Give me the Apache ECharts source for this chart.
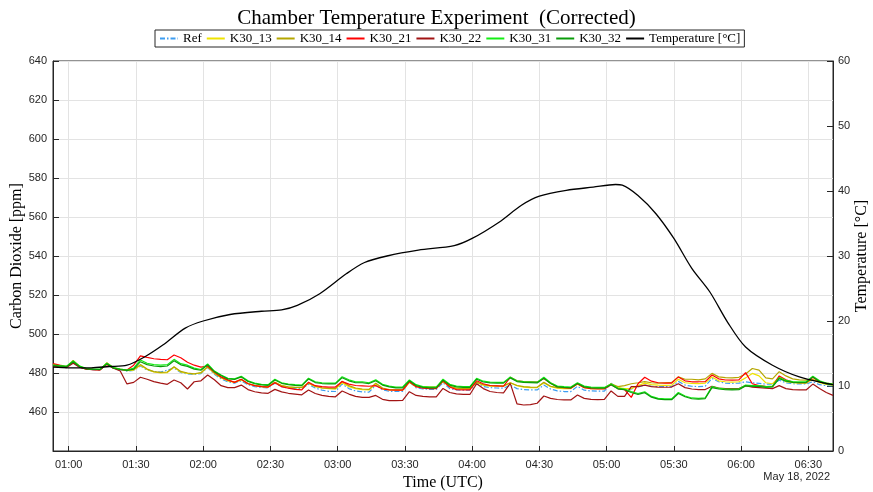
<!DOCTYPE html>
<html><head><meta charset="utf-8">
<script src="https://cdn.jsdelivr.net/npm/echarts@6/dist/echarts.min.js"></script>
<style>html,body{margin:0;padding:0;background:#fff}#c{width:873px;height:492px}</style>
</head><body><div id="c"></div>
<script>
// Sampling of the CO2 series: every 3 minutes from 00:53 UTC, 18 May 2022
const START_TIME = '00:53';
const STEP_MIN = 3;
const X_MIN = '00:53';
const X_MAX = '06:41';
const xTickLabels = ['01:00','01:30','02:00','02:30','03:00','03:30','04:00','04:30','05:00','05:30','06:00','06:30'];

const seriesNames = ['Ref','K30_13','K30_14','K30_21','K30_22','K30_31','K30_32'];

const ref = [484,483.4,482.8,485.5,483,482,481.7,481.6,484.6,482.5,481.6,481,481.3,483.6,481.5,480.8,480.5,481.5,482.5,480.3,479.5,479.2,479.7,482.8,479.3,477,475.5,474.8,476,474,473,472.6,472.4,474.8,473,472.3,472,472,474.2,472.3,471.2,470.6,470.5,474.4,472,470.8,470.3,470.2,473.8,471.4,470.6,470.5,470.6,475.5,472.4,471.8,471.6,471.6,475,472,471.3,471.2,471.2,474.5,473,472.5,472.3,472.2,473.8,472,471.5,471.3,471.3,473.8,471.8,470.8,470.5,470.5,473.2,471.2,470.8,470.7,470.7,474.7,472,471.3,471.8,472.8,473.8,473.2,473,473,473,475.7,473.8,473.2,473,473.2,477.2,475.5,474.8,474.7,474.8,475.5,475,474.7,474.3,474.3,476.3,475,474.5,474.4,474.4,475.5,474,473.5,473.3];
const k30_13 = [484.2,483.5,483,486,483.2,482,481.8,481.7,485,482.6,481.8,481.2,481.5,484,481.8,480.5,480,480.2,483,480.5,479.8,479.5,480,483,479.8,477.5,476,475.2,476.5,474.5,473.5,473,472.8,475.2,473.5,472.8,472.5,472.5,474.7,473,472.3,472,471.8,475,473,472,471.5,471.3,474.5,472,471.3,471.2,471.2,475.2,473,472.8,472.6,472.6,475.6,473,472,471.8,471.8,475.2,473.8,473.3,473.2,473.2,475,473.5,472.8,472.5,472.5,475,473,472.2,472,472,474.3,472.5,472,472,472,474.3,472.5,472,472,473.5,474.8,474,473.8,473.7,473.8,476.8,475,474.7,474.6,474.8,478,476,475.5,475.3,475.5,477.5,479.8,478.5,475,474.5,477.8,475.5,475,474.8,474.8,476.8,475,474.2,473.8];
const k30_14 = [484.5,483.6,483,486.5,483.3,482.2,481.9,481.8,485.2,482.7,482,481.4,481.8,484.3,482,480.7,480.3,480.5,483.2,480.8,480,479.6,480.2,483.2,480,477.7,476.2,475.4,476.7,474.6,473.6,473.1,472.9,475.3,473.6,472.9,472.6,472.6,474.9,473.2,472.4,472.1,472,475.8,473.5,472.3,471.8,471.6,474.8,472.3,471.5,471.4,471.4,475.3,473.2,473,472.8,472.8,475.6,473.2,472.2,472,472,475.3,474,473.5,473.4,473.4,475,473.6,473,472.8,472.7,475.2,473.2,472.5,472.3,472.3,474.5,472.8,472.4,472.3,472.3,474.5,473,473.5,474.5,475,475.6,475,474.8,475,475.2,478,476.8,476.8,476.5,477,479.8,478,477.6,477.5,477.8,479.5,482.3,481.5,477.5,477,480.7,478.5,477,476.5,476.3,476.5,475.5,474.8,474.3];
const k30_21 = [484.8,484,483.3,485.5,483,482,481.7,481.6,484.5,482.5,481.8,481.5,484,488.8,488,487.3,487,486.8,489.2,487.8,485.5,484,483,483.6,480.5,478,476.5,475.2,476.8,474.5,473.5,473,472.8,475,473,472.2,471.6,471.3,475.3,473.5,473,472.8,472.8,475.6,474.3,473.6,473.4,473.2,473.5,471.8,471.3,471.2,471.2,475.6,473,472.2,472,472,476,472.8,471.5,471.3,471.3,476,474.5,473.6,473.4,473.2,477.8,476,475.6,475.5,475.3,477.2,474.8,473,472.5,472.2,474.5,472.5,472,471.8,471.8,474,472,471.5,467.5,474.5,477.8,475.8,475,474.8,474.8,478,476,475.5,475.5,475.6,479,477,476.4,476.3,476.5,480.2,474.5,473.5,473.2,473,478.5,476.5,475.3,475,475,477.8,475.5,474.5,474];
const k30_22 = [483.5,483.2,482.8,485,482.8,482,481.7,481.6,484.5,482.5,481,474.4,475.2,477.8,476.8,475.6,474.8,474.2,476.4,475,471.8,475.5,476,479,476.5,473.5,472.5,472.5,473.8,471.5,470.4,469.8,469.6,471.6,470.3,469.6,469.2,468.8,471.3,469.5,468.5,468,467.8,470.8,469.2,468,467.5,467.5,468.5,466.5,465.8,465.8,466,470.4,468.5,468,467.8,467.8,472.1,470,469.3,469,469,474.5,472,470.5,470,469.8,474.7,464.2,463.6,463.8,464.5,468.2,467,466.4,466.2,466.2,468.7,467,466.5,466.3,466.5,470.8,468,468,473,473,473.8,473,472.8,472.7,472.8,474.5,472.5,471.8,471.5,471.5,473.2,472.3,472,472,472,473.5,472.8,472.5,472.2,472,473.5,472,471.5,471.3,471.3,474.3,472,470,468.5];
const k30_31 = [484,483.8,483.5,486.2,483.5,482.3,482,482,485,482.8,482,481.5,482.5,486.7,485,484.3,484,484.3,487,484.8,484,482.5,481.8,484.6,481,479,477.3,477,478.3,476,474.8,474.2,474,476.8,475,474.3,474,473.8,477.3,475.5,475,474.8,474.8,478.1,476.5,475.5,475.5,475,476.5,474.2,473.3,472.8,472.8,476.4,474,473,472.8,472.8,476.8,474.2,473.3,473,473,477.3,475.8,475.3,475.2,475.2,478,476,475.6,475.5,475.3,477.8,475,473.3,473,472.8,475,473.3,472.8,472.6,472.6,474.4,472.3,471.8,470.5,469.5,470.4,468,467,466.7,466.7,470,468.2,467.2,467,467.3,473,472.2,471.8,471.7,471.8,473.8,473.5,473.5,473,473.3,477.6,476.2,475.6,475.5,475.5,478.4,476,474.8,474.3];
const k30_32 = [483.8,483.5,483.2,485.8,483.2,482.1,481.8,481.8,484.7,482.5,481.8,481.3,482,485.8,484.3,483.6,483.3,483.6,486.3,484.2,483.4,482,481.4,484.2,480.7,478.7,477,476.7,478,475.7,474.5,473.9,473.7,476.4,474.7,474,473.7,473.5,476.9,475.1,474.6,474.4,474.4,477.6,476,475,475,474.6,476,473.8,472.9,472.4,472.4,476,473.6,472.6,472.4,472.4,476.3,473.8,472.9,472.6,472.6,476.8,475.4,474.9,474.8,474.8,477.5,475.6,475.2,475.1,474.9,477.3,474.6,472.9,472.6,472.4,474.6,472.9,472.4,472.2,472.2,474,471.9,471.4,470,469,469.9,467.6,466.6,466.3,466.3,469.5,467.8,466.8,466.6,466.9,472.5,471.8,471.4,471.3,471.4,473.4,473.1,473.1,472.6,472.9,477.1,475.8,475.2,475.1,475.1,478,475.6,474.4,473.9];

const tempTimes = ['00:53','01:00','01:10','01:18','01:26','01:34','01:42','01:52','02:00','02:12','02:26','02:35','02:42','02:52','03:04','03:12','03:22','03:36','03:52','04:00','04:12','04:22','04:30','04:42','04:54','05:04','05:07','05:14','05:22','05:30','05:38','05:46','05:54','06:02','06:14','06:26','06:38','06:41'];
const tempValues = [12.9,12.8,12.8,13.0,13.2,14.5,16.3,18.9,20.0,21.0,21.5,21.7,22.4,24.2,27.3,29.0,30.0,30.9,31.6,32.7,35.2,37.8,39.2,40.1,40.6,41.0,40.9,39.3,36.5,32.7,28.1,24.5,19.8,16.0,13.2,11.4,10.4,10.2];

const co2Ticks = [440,460,480,500,520,540,560,580,600,620,640];
const tempTicks = [0,10,20,30,40,50,60];

const colors = ['#3d9df2','#efe300','#b5a600','#ff0000','#a21414','#14ee14','#0a9c0a','#000000'];

function toMs(hhmm){const p=hhmm.split(':').map(Number);return Date.UTC(2022,4,18,p[0],p[1]);}
function pad(n){return (n<10?'0':'')+n;}
const t0 = toMs(START_TIME);
const xTickValues = xTickLabels.map(toMs);
const co2Data = [ref,k30_13,k30_14,k30_21,k30_22,k30_31,k30_32];

const chart = echarts.init(document.getElementById('c'));
const serif = 'Liberation Serif';
const sans = 'Liberation Sans';
const series = co2Data.map((arr,si)=>({
  name: seriesNames[si], type:'line', yAxisIndex:0, symbol:'none', showSymbol:false, animation:false,
  lineStyle:{width:1.2, color:colors[si], type: si===0 ? [5,2,1.5,2] : 'solid'},
  itemStyle:{color:colors[si]},
  data: arr.map((v,i)=>[t0 + i*STEP_MIN*60000, v])
}));
series.push({
  name:'Temperature [°C]', type:'line', yAxisIndex:1, symbol:'none', showSymbol:false, animation:false,
  smooth:0.3,
  lineStyle:{width:1.3,color:'#000'}, itemStyle:{color:'#000'},
  data: tempTimes.map((t,i)=>[toMs(t), tempValues[i]])
});

chart.setOption({
  animation:false,
  backgroundColor:'#fff',
  title:{text:'Chamber Temperature Experiment  (Corrected)', left:'center', top:3,
    textStyle:{fontFamily:serif, fontSize:21, fontWeight:'normal', color:'#000'}},
  legend:{top:30, left:155, itemWidth:18, itemHeight:10, itemGap:4,
    borderColor:'#262626', borderWidth:1, padding:[2,4,2,4],
    itemStyle:{opacity:0},
    textStyle:{fontFamily:serif, fontSize:13, color:'#000'},
    data: seriesNames.concat(['Temperature [°C]'])},
  grid:{left:53, right:40, top:61, bottom:41, show:true, borderColor:'#262626', borderWidth:1,
    backgroundColor:'transparent', containLabel:false, outerBoundsMode:'none'},
  xAxis:{type:'value', min:toMs(X_MIN), max:toMs(X_MAX),
    name:'Time (UTC)', nameLocation:'middle', nameGap:24, nameMoveOverlap:false,
    nameTextStyle:{fontFamily:serif, fontSize:16, color:'#000'},
    axisLine:{lineStyle:{color:'#262626'}},
    axisTick:{inside:true, length:5, lineStyle:{color:'#262626'}, customValues:xTickValues},
    axisLabel:{fontFamily:sans, fontSize:11, color:'#262626', margin:8, customValues:xTickValues,
      formatter:function(v){const d=new Date(v);return pad(d.getUTCHours())+':'+pad(d.getUTCMinutes());}},
    splitLine:{show:true, lineStyle:{color:'#e3e3e3'}}
  },
  yAxis:[
    {type:'value', min:co2Ticks[0], max:co2Ticks[co2Ticks.length-1], interval:20, position:'left',
     name:'Carbon Dioxide [ppm]', nameLocation:'middle', nameGap:28, nameMoveOverlap:false,
     nameTextStyle:{fontFamily:serif, fontSize:16, color:'#000'},
     axisLine:{show:true, lineStyle:{color:'#262626'}},
     axisTick:{show:true, inside:true, length:6, lineStyle:{color:'#262626'}},
     axisLabel:{fontFamily:sans, fontSize:11, color:'#262626', margin:6,
       formatter:function(v){return v===co2Ticks[0]?'':String(v);}},
     splitLine:{show:true, lineStyle:{color:'#e3e3e3'}}},
    {type:'value', min:tempTicks[0], max:tempTicks[tempTicks.length-1], interval:10, position:'right',
     name:'Temperature [°C]', nameLocation:'middle', nameGap:21, nameMoveOverlap:false,
     nameTextStyle:{fontFamily:serif, fontSize:16, color:'#000'},
     axisLine:{show:true, lineStyle:{color:'#262626'}},
     axisTick:{show:true, inside:true, length:6, lineStyle:{color:'#262626'}},
     axisLabel:{fontFamily:sans, fontSize:11, color:'#262626', margin:5},
     splitLine:{show:false}}
  ],
  graphic:[{type:'text', right:43, top:471, style:{text:'May 18, 2022', font:'11px "Liberation Sans"', fill:'#262626'}}],
  series: series
});
</script>
</body></html>
